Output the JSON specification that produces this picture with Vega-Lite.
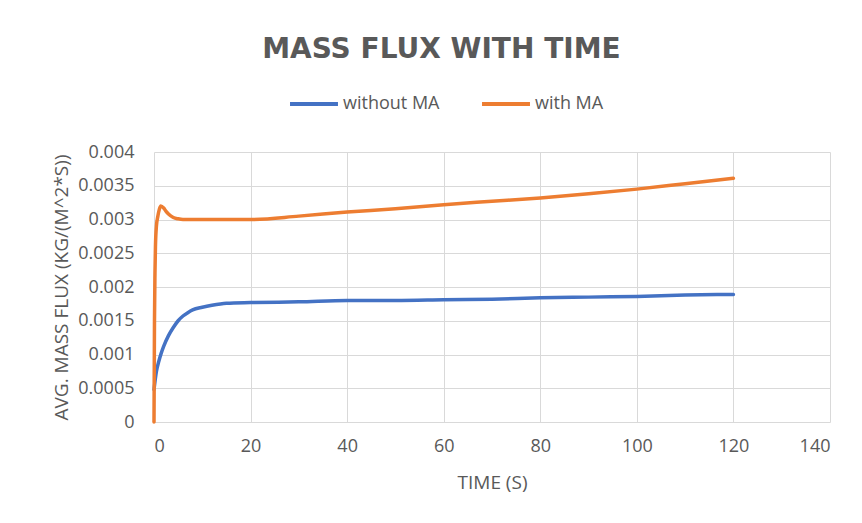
{
  "$schema": "https://vega.github.io/schema/vega-lite/v6.json",
  "width": 676,
  "height": 270,
  "autosize": {"type": "none"},
  "padding": {"left": 154, "top": 152, "right": 32, "bottom": 101},
  "background": "white",
  "title": {
    "text": "MASS FLUX WITH TIME",
    "font": "DejaVu Sans",
    "fontSize": 28,
    "fontWeight": "bold",
    "color": "#595959",
    "anchor": "middle",
    "frame": "bounds",
    "offset": 14
  },
  "data": {
    "values": [
      {"t": 0, "v": 0.00048, "series": "without MA"},
      {"t": 0.5, "v": 0.00075, "series": "without MA"},
      {"t": 1, "v": 0.0009, "series": "without MA"},
      {"t": 1.5, "v": 0.00102, "series": "without MA"},
      {"t": 2, "v": 0.00112, "series": "without MA"},
      {"t": 3, "v": 0.00128, "series": "without MA"},
      {"t": 4, "v": 0.0014, "series": "without MA"},
      {"t": 5, "v": 0.0015, "series": "without MA"},
      {"t": 6, "v": 0.00157, "series": "without MA"},
      {"t": 7, "v": 0.00162, "series": "without MA"},
      {"t": 8, "v": 0.00166, "series": "without MA"},
      {"t": 10, "v": 0.0017, "series": "without MA"},
      {"t": 12, "v": 0.00173, "series": "without MA"},
      {"t": 15, "v": 0.00176, "series": "without MA"},
      {"t": 20, "v": 0.00177, "series": "without MA"},
      {"t": 30, "v": 0.00178, "series": "without MA"},
      {"t": 40, "v": 0.0018, "series": "without MA"},
      {"t": 50, "v": 0.0018, "series": "without MA"},
      {"t": 60, "v": 0.00181, "series": "without MA"},
      {"t": 70, "v": 0.00182, "series": "without MA"},
      {"t": 80, "v": 0.00184, "series": "without MA"},
      {"t": 90, "v": 0.00185, "series": "without MA"},
      {"t": 100, "v": 0.00186, "series": "without MA"},
      {"t": 110, "v": 0.00188, "series": "without MA"},
      {"t": 120, "v": 0.00189, "series": "without MA"},
      {"t": 0, "v": 0, "series": "with MA"},
      {"t": 0.1, "v": 0.0015, "series": "with MA"},
      {"t": 0.2, "v": 0.0022, "series": "with MA"},
      {"t": 0.3, "v": 0.0026, "series": "with MA"},
      {"t": 0.5, "v": 0.0029, "series": "with MA"},
      {"t": 0.8, "v": 0.00305, "series": "with MA"},
      {"t": 1.1, "v": 0.00315, "series": "with MA"},
      {"t": 1.4, "v": 0.0032, "series": "with MA"},
      {"t": 2, "v": 0.00317, "series": "with MA"},
      {"t": 2.5, "v": 0.00312, "series": "with MA"},
      {"t": 3, "v": 0.00308, "series": "with MA"},
      {"t": 4, "v": 0.00303, "series": "with MA"},
      {"t": 5, "v": 0.00301, "series": "with MA"},
      {"t": 6, "v": 0.003, "series": "with MA"},
      {"t": 8, "v": 0.003, "series": "with MA"},
      {"t": 10, "v": 0.003, "series": "with MA"},
      {"t": 15, "v": 0.003, "series": "with MA"},
      {"t": 20, "v": 0.003, "series": "with MA"},
      {"t": 30, "v": 0.00305, "series": "with MA"},
      {"t": 40, "v": 0.00311, "series": "with MA"},
      {"t": 50, "v": 0.00316, "series": "with MA"},
      {"t": 60, "v": 0.00322, "series": "with MA"},
      {"t": 70, "v": 0.00327, "series": "with MA"},
      {"t": 80, "v": 0.00332, "series": "with MA"},
      {"t": 90, "v": 0.00338, "series": "with MA"},
      {"t": 100, "v": 0.00345, "series": "with MA"},
      {"t": 110, "v": 0.00353, "series": "with MA"},
      {"t": 120, "v": 0.00361, "series": "with MA"}
    ]
  },
  "mark": {"type": "line", "strokeWidth": 3.5, "strokeJoin": "round", "strokeCap": "round", "interpolate": "monotone"},
  "encoding": {
    "x": {
      "field": "t",
      "type": "quantitative",
      "title": "TIME (S)",
      "scale": {"domain": [0, 140], "nice": false},
      "axis": {"values": [0, 20, 40, 60, 80, 100, 120, 140], "labelPadding": 15, "titlePadding": 18}
    },
    "y": {
      "field": "v",
      "type": "quantitative",
      "title": "AVG. MASS FLUX (KG/(M^2*S))",
      "scale": {"domain": [0, 0.004], "nice": false},
      "axis": {
        "values": [0, 0.0005, 0.001, 0.0015, 0.002, 0.0025, 0.003, 0.0035, 0.004],
        "labelExpr": "datum.value == 0 ? '0' : format(datum.value, '~g')",
        "labelPadding": 20,
        "titlePadding": 6
      }
    },
    "color": {
      "field": "series",
      "type": "nominal",
      "title": null,
      "scale": {"domain": ["without MA", "with MA"], "range": ["#4472C4", "#ED7D31"]},
      "legend": {
        "orient": "none",
        "direction": "horizontal",
        "legendX": 134,
        "legendY": -74,
        "symbolType": "stroke",
        "symbolSize": 2300,
        "symbolStrokeWidth": 4,
        "columnPadding": 34,
        "labelOffset": 3,
        "labelFontSize": 18,
        "labelFont": "Open Sans",
        "labelColor": "#595959"
      }
    }
  },
  "config": {
    "view": {"stroke": null},
    "axis": {
      "domain": false,
      "ticks": false,
      "grid": true,
      "gridColor": "#d9d9d9",
      "gridWidth": 1,
      "labelFont": "Open Sans",
      "labelFontSize": 18,
      "labelColor": "#595959",
      "titleFont": "Open Sans",
      "titleFontSize": 19,
      "titleFontWeight": "normal",
      "titleColor": "#595959"
    }
  }
}
